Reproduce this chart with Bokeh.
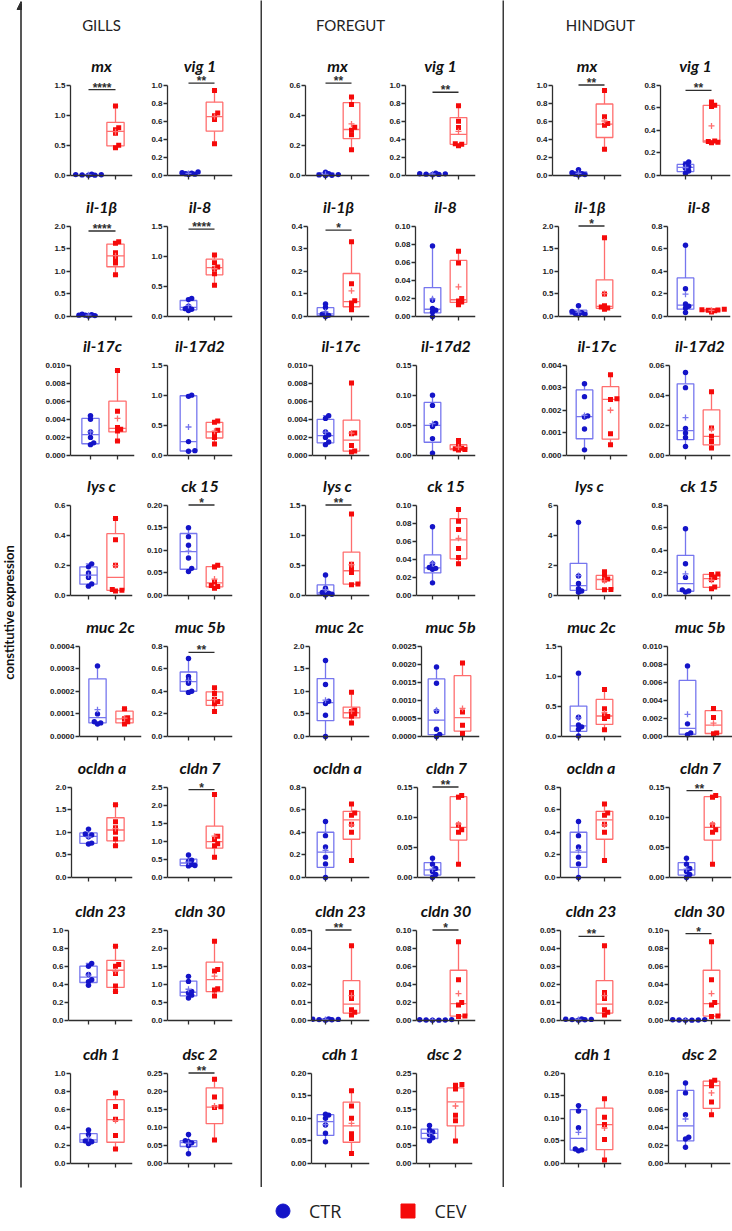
import numpy as np
from bokeh.plotting import figure
from bokeh.models import Range1d, FixedTicker, PrintfTickFormatter, Arrow, NormalHead, Legend, LegendItem
from bokeh.layouts import row, column
from bokeh.core.properties import value
from bokeh.embed import file_html
from bokeh.resources import INLINE

# ---------------------------------------------------------------- data
TISSUES = ["GILLS", "FOREGUT", "HINDGUT"]
GROUPS = ["CTR", "CEV"]
GENES = ["mx", "vig 1", "il-1β", "il-8", "il-17c", "il-17d2", "lys c", "ck 15",
         "muc 2c", "muc 5b", "ocldn a", "cldn 7", "cldn 23", "cldn 30", "cdh 1", "dsc 2"]

# y axis (top tick, tick step) per gene
AXIS_GILLS = [(1.5, 0.5), (1.0, 0.2), (2.0, 0.5), (1.5, 0.5), (0.010, 0.002), (1.5, 0.5),
              (0.6, 0.2), (0.20, 0.05), (0.0004, 0.0001), (0.8, 0.2), (2.0, 0.5), (2.5, 0.5),
              (1.0, 0.2), (2.5, 0.5), (1.0, 0.2), (0.25, 0.05)]
AXIS_FOREGUT = [(0.6, 0.2), (1.0, 0.2), (0.4, 0.1), (0.10, 0.02), (0.010, 0.002), (0.15, 0.05),
                (1.5, 0.5), (0.10, 0.02), (2.0, 0.5), (0.0025, 0.0005), (0.8, 0.2), (0.15, 0.05),
                (0.05, 0.01), (0.10, 0.02), (0.20, 0.05), (0.25, 0.05)]
AXIS_HINDGUT = [(1.0, 0.2), (0.8, 0.2), (2.0, 0.5), (0.8, 0.2), (0.004, 0.001), (0.06, 0.02),
                (6, 2), (0.8, 0.2), (1.5, 0.5), (0.010, 0.002), (0.8, 0.2), (0.15, 0.05),
                (0.05, 0.01), (0.10, 0.02), (0.20, 0.05), (0.10, 0.02)]

# individual fish values
CTR_GILLS = [
    [0.003, 0.006, 0.01, 0.012, 0.015, 0.02],
    [0.01, 0.015, 0.02, 0.025, 0.03, 0.04],
    [0.01, 0.02, 0.03, 0.03, 0.04, 0.05],
    [0.10, 0.12, 0.13, 0.17, 0.28, 0.30],
    [0.0012, 0.0014, 0.0020, 0.0026, 0.0040, 0.0044],
    [0.07, 0.08, 0.23, 0.98, 1.00],
    [0.062, 0.077, 0.12, 0.15, 0.19, 0.21],
    [0.053, 0.060, 0.083, 0.111, 0.130, 0.150],
    [0.000055, 0.00006, 0.000065, 0.0001, 0.000312],
    [0.39, 0.40, 0.47, 0.50, 0.53, 0.69],
    [0.74, 0.76, 0.90, 0.94, 0.96, 1.07],
    [0.32, 0.33, 0.36, 0.45, 0.48, 0.62],
    [0.39, 0.43, 0.45, 0.51, 0.60, 0.63],
    [0.62, 0.70, 0.76, 0.80, 1.08, 1.22],
    [0.22, 0.24, 0.25, 0.26, 0.32, 0.37],
    [0.027, 0.050, 0.057, 0.060, 0.063, 0.080],
]
CEV_GILLS = [
    [0.46, 0.50, 0.70, 0.76, 0.79, 1.15],
    [0.35, 0.62, 0.66, 0.69, 0.94],
    [0.92, 1.18, 1.28, 1.41, 1.62, 1.65],
    [0.52, 0.71, 0.79, 0.82, 0.89, 1.02],
    [0.0016, 0.0027, 0.0029, 0.0031, 0.0049, 0.0094],
    [0.19, 0.30, 0.37, 0.42, 0.55, 0.57],
    [0.03, 0.035, 0.04, 0.20, 0.37, 0.51],
    [0.016, 0.020, 0.022, 0.030, 0.063, 0.067],
    [0.000055, 0.000065, 0.000078, 0.000083, 0.000123],
    [0.22, 0.29, 0.31, 0.33, 0.38, 0.43],
    [0.70, 0.85, 1.00, 1.10, 1.23, 1.61],
    [0.56, 0.88, 0.93, 1.05, 1.14, 2.29],
    [0.32, 0.38, 0.52, 0.60, 0.62, 0.82],
    [0.68, 0.84, 0.88, 1.37, 1.41, 2.19],
    [0.16, 0.31, 0.49, 0.63, 0.78],
    [0.065, 0.155, 0.157, 0.184, 0.233],
]
CTR_FOREGUT = [
    [0.0, 0.002, 0.004, 0.006, 0.012, 0.022],
    [0.008, 0.012, 0.015, 0.018, 0.02, 0.025],
    [0.0, 0.005, 0.01, 0.015, 0.04, 0.055],
    [0.0, 0.005, 0.007, 0.009, 0.018, 0.078],
    [0.0012, 0.0015, 0.0020, 0.0023, 0.0026, 0.0041, 0.0044],
    [0.004, 0.028, 0.048, 0.053, 0.083, 0.100],
    [0.01, 0.02, 0.04, 0.05, 0.12, 0.34],
    [0.014, 0.029, 0.030, 0.031, 0.035, 0.076],
    [0.0, 0.47, 0.73, 0.78, 1.15, 1.68],
    [0.0, 0.00006, 0.0002, 0.0007, 0.00147, 0.00192],
    [0.0, 0.12, 0.18, 0.27, 0.37, 0.495],
    [0.0, 0.005, 0.010, 0.015, 0.022, 0.032],
    [0.0002, 0.0004, 0.0005, 0.0006, 0.0007, 0.0009],
    [0.0002, 0.0004, 0.0005, 0.0006, 0.0008, 0.001],
    [0.048, 0.067, 0.085, 0.100, 0.107, 0.109],
    [0.063, 0.071, 0.080, 0.087, 0.092, 0.105],
]
CEV_FOREGUT = [
    [0.17, 0.27, 0.30, 0.32, 0.47, 0.52],
    [0.33, 0.345, 0.35, 0.53, 0.60, 0.77],
    [0.03, 0.045, 0.06, 0.07, 0.145, 0.33],
    [0.013, 0.016, 0.017, 0.020, 0.059, 0.072],
    [0.0004, 0.0005, 0.0011, 0.0024, 0.0025, 0.0080],
    [0.009, 0.010, 0.011, 0.012, 0.017, 0.025],
    [0.18, 0.19, 0.38, 0.44, 0.52, 1.35],
    [0.035, 0.042, 0.052, 0.073, 0.082, 0.095],
    [0.30, 0.45, 0.50, 0.55, 0.58, 0.98],
    [0.00008, 0.00031, 0.00068, 0.00203],
    [0.15, 0.40, 0.47, 0.55, 0.57, 0.65],
    [0.022, 0.075, 0.079, 0.087, 0.133, 0.136],
    [0.003, 0.0045, 0.006, 0.0122, 0.0155, 0.0413],
    [0.0045, 0.005, 0.017, 0.020, 0.045, 0.087],
    [0.022, 0.055, 0.066, 0.100, 0.127, 0.161],
    [0.062, 0.118, 0.133, 0.206, 0.216, 0.218],
]
CTR_HINDGUT = [
    [0.005, 0.01, 0.015, 0.02, 0.03, 0.065],
    [0.02, 0.04, 0.065, 0.078, 0.10, 0.12],
    [0.04, 0.05, 0.065, 0.085, 0.11, 0.24],
    [0.036, 0.075, 0.09, 0.11, 0.245, 0.63],
    [0.00025, 0.00117, 0.0017, 0.00175, 0.0026, 0.00317],
    [0.006, 0.012, 0.015, 0.018, 0.045, 0.055],
    [0.22, 0.30, 0.45, 0.80, 1.30, 4.85],
    [0.03, 0.04, 0.05, 0.16, 0.28, 0.59],
    [0.01, 0.12, 0.16, 0.19, 0.32, 1.05],
    [0.0002, 0.0004, 0.0014, 0.0078],
    [0.0, 0.12, 0.18, 0.27, 0.37, 0.495],
    [0.0, 0.005, 0.010, 0.015, 0.022, 0.032],
    [0.0002, 0.0004, 0.0005, 0.0006, 0.0007, 0.0009],
    [0.0002, 0.0004, 0.0005, 0.0006, 0.0008, 0.001],
    [0.028, 0.030, 0.032, 0.079, 0.116, 0.128],
    [0.018, 0.027, 0.029, 0.054, 0.078, 0.089],
]
CEV_HINDGUT = [
    [0.29, 0.555, 0.575, 0.65, 0.94],
    [0.29, 0.295, 0.30, 0.305, 0.61, 0.62, 0.65],
    [0.16, 0.19, 0.21, 0.24, 0.50, 1.74],
    [0.040, 0.050, 0.055, 0.058, 0.060, 0.065],
    [0.00048, 0.00096, 0.00248, 0.00251, 0.00357],
    [0.0049, 0.0093, 0.0127, 0.0182, 0.0422],
    [0.38, 0.40, 1.02, 1.10, 1.35, 1.57],
    [0.06, 0.075, 0.14, 0.16, 0.185, 0.19],
    [0.11, 0.30, 0.33, 0.36, 0.46, 0.78],
    [0.0003, 0.0004, 0.0021, 0.0031],
    [0.15, 0.40, 0.47, 0.55, 0.57, 0.65],
    [0.022, 0.075, 0.079, 0.087, 0.133, 0.136],
    [0.003, 0.0045, 0.006, 0.0122, 0.0155, 0.0413],
    [0.0045, 0.005, 0.017, 0.020, 0.045, 0.087],
    [0.008, 0.053, 0.086, 0.102, 0.143],
    [0.054, 0.068, 0.086, 0.090, 0.092],
]

# box quartiles (Q1, median, Q3)
CTR_BOX_GILLS = [(0.005, 0.011, 0.016), (0.013, 0.022, 0.03), (0.015, 0.03, 0.04), (0.11, 0.15, 0.265),
                 (0.0013, 0.0023, 0.0041), (0.075, 0.23, 0.99), (0.075, 0.135, 0.19), (0.058, 0.097, 0.137),
                 (0.00006, 0.000083, 0.000255), (0.40, 0.485, 0.57), (0.755, 0.91, 0.985), (0.33, 0.40, 0.51),
                 (0.42, 0.48, 0.60), (0.68, 0.78, 1.09), (0.235, 0.26, 0.33), (0.047, 0.058, 0.063)]
CEV_BOX_GILLS = [(0.49, 0.73, 0.88), (0.49, 0.65, 0.81), (1.10, 1.34, 1.60), (0.69, 0.81, 0.95),
                 (0.0026, 0.0030, 0.0060), (0.29, 0.39, 0.55), (0.034, 0.12, 0.41), (0.019, 0.028, 0.064),
                 (0.00006, 0.000078, 0.000112), (0.275, 0.32, 0.395), (0.81, 1.05, 1.32), (0.81, 0.99, 1.42),
                 (0.365, 0.555, 0.665), (0.80, 1.13, 1.61), (0.235, 0.485, 0.705), (0.11, 0.156, 0.209)]
CTR_BOX_FOREGUT = [(0.002, 0.005, 0.018), (0.01, 0.016, 0.021), (0.004, 0.012, 0.039), (0.004, 0.008, 0.032),
                   (0.0014, 0.0022, 0.0040), (0.022, 0.050, 0.088), (0.018, 0.045, 0.175), (0.025, 0.0305, 0.045),
                   (0.35, 0.75, 1.28), (0.00005, 0.00045, 0.00159), (0.09, 0.225, 0.40), (0.004, 0.0125, 0.0245),
                   (0.0003, 0.00055, 0.0008), (0.0003, 0.00055, 0.0008), (0.062, 0.0925, 0.108), (0.069, 0.083, 0.095)]
CEV_BOX_FOREGUT = [(0.245, 0.305, 0.483), (0.345, 0.455, 0.64), (0.043, 0.066, 0.19), (0.0155, 0.0185, 0.062),
                   (0.00048, 0.0017, 0.0039), (0.0098, 0.0115, 0.0178), (0.19, 0.41, 0.72), (0.0405, 0.0615, 0.085),
                   (0.41, 0.525, 0.65), (0.00015, 0.00052, 0.00168), (0.338, 0.51, 0.585), (0.062, 0.083, 0.134),
                   (0.0041, 0.0091, 0.022), (0.0049, 0.0187, 0.0555), (0.047, 0.083, 0.1355), (0.104, 0.17, 0.209)]
CTR_BOX_HINDGUT = [(0.009, 0.018, 0.04), (0.035, 0.072, 0.098), (0.048, 0.075, 0.14), (0.065, 0.10, 0.341),
                   (0.00074, 0.00172, 0.0029), (0.0105, 0.0165, 0.0475), (0.34, 0.65, 2.13), (0.0375, 0.105, 0.355),
                   (0.085, 0.175, 0.505), (0.00025, 0.0009, 0.0062), (0.09, 0.225, 0.40), (0.004, 0.0125, 0.0245),
                   (0.0003, 0.00055, 0.0008), (0.0003, 0.00055, 0.0008), (0.0295, 0.0555, 0.119), (0.025, 0.0415, 0.0808)]
CEV_BOX_HINDGUT = [(0.42, 0.567, 0.79), (0.295, 0.305, 0.62), (0.18, 0.225, 0.81), (0.047, 0.056, 0.061),
                   (0.00072, 0.00248, 0.00304), (0.0071, 0.0127, 0.0302), (0.40, 1.06, 1.33), (0.071, 0.15, 0.187),
                   (0.20, 0.34, 0.615), (0.00033, 0.00125, 0.00285), (0.338, 0.51, 0.585), (0.062, 0.083, 0.134),
                   (0.0041, 0.0091, 0.022), (0.0049, 0.0187, 0.0555), (0.0305, 0.086, 0.1225), (0.061, 0.086, 0.091)]

# significance of CTR vs CEV
SIG_GILLS = ["****", "**", "****", "****", "", "", "", "*", "", "**", "", "*", "", "", "", "**"]
SIG_FOREGUT = ["**", "**", "*", "", "", "", "**", "", "", "", "", "**", "**", "*", "", ""]
SIG_HINDGUT = ["**", "**", "*", "", "", "", "", "", "", "", "", "**", "**", "*", "", ""]

AXES = {"GILLS": AXIS_GILLS, "FOREGUT": AXIS_FOREGUT, "HINDGUT": AXIS_HINDGUT}
CTR = {"GILLS": CTR_GILLS, "FOREGUT": CTR_FOREGUT, "HINDGUT": CTR_HINDGUT}
CEV = {"GILLS": CEV_GILLS, "FOREGUT": CEV_FOREGUT, "HINDGUT": CEV_HINDGUT}
CTR_BOX = {"GILLS": CTR_BOX_GILLS, "FOREGUT": CTR_BOX_FOREGUT, "HINDGUT": CTR_BOX_HINDGUT}
CEV_BOX = {"GILLS": CEV_BOX_GILLS, "FOREGUT": CEV_BOX_FOREGUT, "HINDGUT": CEV_BOX_HINDGUT}
SIG = {"GILLS": SIG_GILLS, "FOREGUT": SIG_FOREGUT, "HINDGUT": SIG_HINDGUT}

# ---------------------------------------------------------------- layout / style
CTR_DOT, CTR_LINE = "#1414c8", "#7676ee"
CEV_DOT, CEV_LINE = "#f50a0a", "#ff6e6e"
INK = "#2e2e2e"

ZERO_Y = [175, 316, 455, 595, 736, 877, 1020, 1163]   # page y of each row's x axis
Z_REL = 122                                          # x axis distance from top of a panel figure
AXIS_PX = 90.5                                       # length of the y axis (0 .. top tick)
TOP_PAD, BOT_PAD = 9.5, 6
FRAME_H = int(AXIS_PX + TOP_PAD + BOT_PAD)
BORDER_TOP = int(Z_REL - AXIS_PX - TOP_PAD)
HEAD_H = ZERO_Y[0] - Z_REL
ROW_H = [ZERO_Y[i + 1] - ZERO_Y[i] for i in range(7)] + [140]
FULL_H = 1190

COLS = {"GILLS": (22, 238), "FOREGUT": (262, 240), "HINDGUT": (504, 228)}
HEAD_X = {"GILLS": 101, "FOREGUT": 350, "HINDGUT": 600}
# (figure left, figure width, CTR tick, CEV tick, x-axis end) for left / right panel slot
SLOTS = {
    "GILLS": [(22, 121, 88, 115, 132), (143, 117, 188, 214, 232)],
    "FOREGUT": [(262, 123, 325, 351, 369), (385, 117, 432, 458, 475)],
    "HINDGUT": [(504, 132, 578, 604, 621), (636, 96, 685, 711, 730)],
}
AXIS_X = {
    "GILLS": [70, 167, 70, 167, 70, 167, 70, 167, 79, 167, 71, 167, 68, 167, 70, 167],
    "FOREGUT": [305, 405, 307, 415, 312, 416, 305, 416, 309, 421, 305, 417, 311, 416, 311, 416],
    "HINDGUT": [552, 660, 558, 667, 566, 669, 557, 667, 561, 667, 560, 669, 560, 668, 564, 668],
}
TICK_SHIFT = {"GILLS": {4: 2, 8: 9}, "FOREGUT": {9: 4, 15: -3}, "HINDGUT": {4: 6, 9: 2, 11: 1}}
SIG_LEVEL = {
    "GILLS": {0: 0.95, 1: 1.02, 2: 0.945, 3: 0.965, 7: 1.0, 9: 0.93, 11: 0.97, 15: 1.0},
    "FOREGUT": {0: 1.02, 1: 0.92, 2: 0.955, 6: 1.0, 11: 1.0, 12: 1.0, 13: 1.0},
    "HINDGUT": {0: 1.0, 1: 0.94, 2: 1.0, 11: 0.96, 12: 0.93, 13: 0.96},
}
BOX_HW, CAP_HW = 0.32, 0.1


def decimals(step):
    d = 0
    while abs(step * 10 ** d - round(step * 10 ** d)) > 1e-6 and d < 8:
        d += 1
    return d


def swarm(vals, ppu_y, ppu_x, min_dist=3.3, step=3.2):
    """Horizontal offsets (data units) so that overlapping dots sit side by side."""
    vals = np.asarray(vals, float)
    placed, xs = [], np.zeros(len(vals))
    for i in np.argsort(vals):
        ypx = vals[i] * ppu_y
        off = 0.0
        for k in range(40):
            off = ((k + 1) // 2) * step * (1 if k % 2 else -1) if k else 0.0
            if all((off - px) ** 2 + (ypx - py) ** 2 >= min_dist ** 2 for px, py in placed):
                break
        placed.append((off, ypx))
        xs[i] = off / ppu_x
    return xs


def panel(tissue, idx, height):
    gene = GENES[idx]
    top, step = AXES[tissue][idx]
    fig_left, fig_w, t1, t2, x_end = SLOTS[tissue][idx % 2]
    shift = TICK_SHIFT[tissue].get(idx, 0)
    t1, t2, x_end = t1 + shift, t2 + shift, x_end + shift
    ax = AXIS_X[tissue][idx]
    d = t2 - t1
    u = top / AXIS_PX
    p = figure(width=fig_w, height=height,
               x_range=Range1d(1 - (t1 - ax) / d, 2 + (x_end - t2) / d),
               y_range=Range1d(-BOT_PAD * u, top + TOP_PAD * u),
               min_border_left=ax - fig_left, min_border_right=fig_left + fig_w - x_end,
               min_border_top=BORDER_TOP, min_border_bottom=height - BORDER_TOP - FRAME_H,
               output_backend="svg", toolbar_location=None, title=gene)
    p.title.align = "center"
    p.title.text_font = "Lato"
    p.title.text_font_style = "bold italic"
    p.title.text_font_size = "16px"
    p.title.text_color = "#111111"
    p.title.standoff = 1
    p.grid.visible = False
    p.outline_line_color = None

    groups = ((1, CTR[tissue][idx], CTR_BOX[tissue][idx], CTR_DOT, CTR_LINE, "circle", 5.4),
              (2, CEV[tissue][idx], CEV_BOX[tissue][idx], CEV_DOT, CEV_LINE, "square", 5.0))
    for gx, pts, box, dot, line, marker, msize in groups:
        pts = np.asarray(pts, float)
        q1, med, q3 = box
        lo, hi = pts.min(), pts.max()
        p.quad(left=[gx - BOX_HW], right=[gx + BOX_HW], bottom=[q1], top=[q3],
               fill_color=None, line_color=line, line_width=1.3)
        p.segment(x0=[gx - BOX_HW, gx, gx, gx - CAP_HW, gx - CAP_HW],
                  y0=[med, lo, q3, lo, hi],
                  x1=[gx + BOX_HW, gx, gx, gx + CAP_HW, gx + CAP_HW],
                  y1=[med, q1, hi, lo, hi], line_color=line, line_width=1.3)
        xs = gx + swarm(pts, 1 / u, d)
        p.scatter(xs, pts, marker=marker, size=msize, fill_color=dot, line_color=None)
        p.scatter([gx], [pts.mean()], marker="cross", size=6, line_color=line, line_width=1.3)

    stars = SIG[tissue][idx]
    if stars:
        lv = SIG_LEVEL[tissue][idx] * top
        p.segment(x0=[1], y0=[lv], x1=[2], y1=[lv], line_color=INK, line_width=1.3)
        p.text(x=[1.5], y=[lv + 2.0 * u], text=[stars], text_align="center",
               text_baseline="middle", text_font=value("Liberation Sans"),
               text_font_style="bold", text_font_size="12px", text_color=INK)

    ya = p.yaxis[0]
    n = int(round(top / step))
    ya.ticker = FixedTicker(ticks=[round(k * step, 10) for k in range(n + 1)])
    ya.formatter = PrintfTickFormatter(format=f"%.{decimals(step)}f")
    ya.bounds = (0, top)
    ya.major_label_text_font = "Liberation Sans"
    ya.major_label_text_font_style = "bold"
    ya.major_label_text_font_size = "8px"
    ya.major_label_text_color = "#1a1a1a"
    ya.major_label_standoff = 1
    ya.major_tick_out = 4
    ya.major_tick_in = 0
    ya.minor_tick_line_color = None

    # the group marks on the x axis carry no labels: draw them as unlabeled minor ticks
    xa = p.xaxis[0]
    xa.ticker = FixedTicker(ticks=[], minor_ticks=[1, 2])
    xa.fixed_location = 0
    xa.minor_tick_out = 4
    xa.minor_tick_in = 0
    xa.minor_tick_line_color = INK
    xa.minor_tick_line_width = 1.3

    for a in (ya, xa):
        a.axis_line_color = INK
        a.axis_line_width = 1.3
        a.major_tick_line_color = INK
        a.major_tick_line_width = 1.3
    return p


def tissue_column(tissue):
    x0, w = COLS[tissue]
    head = figure(width=w, height=HEAD_H, x_range=Range1d(0, w), y_range=Range1d(HEAD_H, 0),
                  min_border=0, x_axis_location=None, y_axis_location=None,
                  output_backend="svg", toolbar_location=None)
    head.grid.visible = False
    head.outline_line_color = None
    head.text(x=[HEAD_X[tissue] - x0], y=[24], text=[tissue], text_align="center",
              text_baseline="middle", text_font=value("Lato"), text_font_size="15px",
              text_color="#222222")
    rows = [head]
    for r in range(8):
        rows.append(row(panel(tissue, 2 * r, ROW_H[r]), panel(tissue, 2 * r + 1, ROW_H[r])))
    return column(*rows)


def rule(height):
    f = figure(width=2, height=height, min_border=0, x_axis_location=None, y_axis_location=None,
               output_backend="svg", toolbar_location=None,
               background_fill_color="#3a3a3a", border_fill_color="#3a3a3a")
    f.grid.visible = False
    f.outline_line_color = None
    return f


# left strip: arrow axis and its label
side = figure(width=22, height=FULL_H, x_range=Range1d(0, 22), y_range=Range1d(FULL_H, 0),
              min_border=0, x_axis_location=None, y_axis_location=None,
              output_backend="svg", toolbar_location=None)
side.grid.visible = False
side.outline_line_color = None
side.add_layout(Arrow(end=NormalHead(size=8, fill_color=INK, line_color=INK),
                      x_start=20.5, y_start=FULL_H - 3, x_end=20.5, y_end=1,
                      line_color=INK, line_width=1.6))
side.text(x=[8], y=[612], text=["constitutive expression"], angle=np.pi / 2,
          text_align="center", text_baseline="middle", text_font=value("Lato"),
          text_font_style="bold", text_font_size="13px", text_color="#111111")

# legend strip (key glyphs sit outside the visible range; only the legend shows them)
leg = figure(width=732, height=41, min_border=0, x_range=Range1d(0, 1), y_range=Range1d(0, 1),
             x_axis_location=None, y_axis_location=None,
             output_backend="svg", toolbar_location=None)
leg.grid.visible = False
leg.outline_line_color = None
r_ctr = leg.scatter(x=[-5], y=[-5], marker="circle", size=14, fill_color=CTR_DOT, line_color=CTR_DOT)
r_cev = leg.scatter(x=[-5], y=[-5], marker="square", size=14, fill_color=CEV_DOT, line_color=CEV_DOT)
legend = Legend(items=[LegendItem(label=GROUPS[0], renderers=[r_ctr]),
                       LegendItem(label=GROUPS[1], renderers=[r_cev])],
                orientation="horizontal", location=(265, 3), glyph_width=35, glyph_height=35,
                label_standoff=9, spacing=49, padding=0, margin=0,
                label_text_font="Open Sans", label_text_font_size="18px", label_text_color="#222222",
                border_line_color=None, background_fill_alpha=0)
leg.add_layout(legend)

top_part = row(side, tissue_column("GILLS"), rule(FULL_H - 3), tissue_column("FOREGUT"),
               rule(FULL_H - 3), tissue_column("HINDGUT"))
page = column(top_part, leg)

open("out.html", "w").write(file_html(page, INLINE))
